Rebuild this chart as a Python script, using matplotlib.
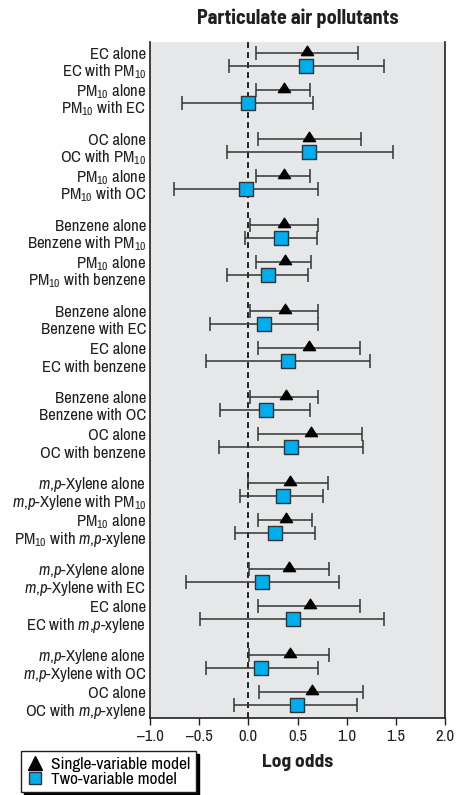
import numpy as np
import matplotlib
matplotlib.use('Agg')
import matplotlib.pyplot as plt
from matplotlib.lines import Line2D
from matplotlib.path import Path

plt.rcParams['font.family'] = ['Archivo Narrow', 'DejaVu Sans']
plt.rcParams['mathtext.fontset'] = 'custom'
plt.rcParams['mathtext.rm'] = 'Archivo Narrow'
plt.rcParams['mathtext.it'] = 'Archivo Narrow:italic'
BOLD = ['Barlow Semi Condensed', 'DejaVu Sans']

MP = r'$\mathit{m{,}p}$'

single_labels = ['EC alone', 'PM$_{10}$ alone', 'OC alone', 'PM$_{10}$ alone',
                 'Benzene alone', 'PM$_{10}$ alone', 'Benzene alone', 'EC alone',
                 'Benzene alone', 'OC alone', MP + '-Xylene alone', 'PM$_{10}$ alone',
                 MP + '-Xylene alone', 'EC alone', MP + '-Xylene alone', 'OC alone']
two_labels = ['EC with PM$_{10}$', 'PM$_{10}$ with EC', 'OC with PM$_{10}$', 'PM$_{10}$ with OC',
              'Benzene with PM$_{10}$', 'PM$_{10}$ with benzene', 'Benzene with EC', 'EC with benzene',
              'Benzene with OC', 'OC with benzene', MP + '-Xylene with PM$_{10}$',
              'PM$_{10}$ with ' + MP + '-xylene', MP + '-Xylene with EC', 'EC with ' + MP + '-xylene',
              MP + '-Xylene with OC', 'OC with ' + MP + '-xylene']

single_est = [0.60, 0.36, 0.62, 0.36, 0.36, 0.37, 0.37, 0.62, 0.38, 0.64, 0.42, 0.38, 0.41, 0.63, 0.42, 0.65]
single_lo = [0.08, 0.08, 0.10, 0.08, 0.02, 0.08, 0.02, 0.10, 0.02, 0.10, 0.00, 0.10, 0.01, 0.10, 0.01, 0.11]
single_hi = [1.12, 0.63, 1.15, 0.63, 0.71, 0.64, 0.71, 1.14, 0.71, 1.16, 0.81, 0.65, 0.82, 1.14, 0.82, 1.17]

two_est = [0.59, 0.00, 0.62, -0.02, 0.33, 0.20, 0.16, 0.40, 0.18, 0.43, 0.35, 0.27, 0.14, 0.45, 0.13, 0.49]
two_lo = [-0.20, -0.67, -0.22, -0.76, -0.03, -0.22, -0.39, -0.43, -0.29, -0.30, -0.08, -0.14, -0.63, -0.49, -0.43, -0.15]
two_hi = [1.38, 0.66, 1.47, 0.71, 0.70, 0.61, 0.71, 1.24, 0.63, 1.17, 0.76, 0.68, 0.92, 1.38, 0.71, 1.11]

xticks = [-1.0, -0.5, 0.0, 0.5, 1.0, 1.5, 2.0]

BLUE = '#00aeef'
BAR = '#333333'
INK = '#231f20'

# rows laid out in pixel-like units, top to bottom: 8 groups of 2 pairs
n = len(single_est)
idx = np.arange(n)
y_single = 11 + (idx // 2) * 86 + (idx % 2) * 37.3
y_two = y_single + 12.5

# triangle sitting above the bar, like the original
tri = Path([(0, 1.2), (-1.0, -0.35), (1.0, -0.35), (0, 1.2)],
           [Path.MOVETO, Path.LINETO, Path.LINETO, Path.CLOSEPOLY])

fig = plt.figure(figsize=(4.63, 7.95), dpi=100)
ax = fig.add_axes([150 / 463, 1 - 717.7 / 795, 295 / 463, 675.7 / 795])
ax.set_facecolor('#e6e7e8')

ax.axvline(0, color='black', lw=1.2, ls=(0, (3.5, 2.5)), zorder=1)

se = np.array(single_est)
te = np.array(two_est)
ax.errorbar(se, y_single, xerr=[se - np.array(single_lo), np.array(single_hi) - se],
            fmt='none', ecolor=BAR, elinewidth=1.1, capsize=5, capthick=1.1, zorder=2)
ax.errorbar(te, y_two, xerr=[te - np.array(two_lo), np.array(two_hi) - te],
            fmt='none', ecolor=BAR, elinewidth=1.1, capsize=5, capthick=1.1, zorder=2)
ax.scatter(se, y_single, marker=tri, s=110, color='black', zorder=3)
ax.scatter(te, y_two, marker='s', s=115, color=BLUE, edgecolor=BAR, linewidth=1.0, zorder=3)

ax.set_xlim(-1, 2)
ax.set_ylim(675.7, 0)
ax.set_yticks([])
ax.set_xticks(xticks)
ax.set_xticklabels([('%.1f' % t).replace('-', '\u2013') for t in xticks], fontsize=12)
ax.tick_params(axis='x', direction='out', length=5, width=1, pad=3, colors=INK)
ax.spines['top'].set_visible(False)
for s in ['left', 'right', 'bottom']:
    ax.spines[s].set_linewidth(1.2)
    ax.spines[s].set_color(INK)

tr = ax.get_yaxis_transform()
for i in range(n):
    ax.text(-0.013, y_single[i] + 6.0, single_labels[i], transform=tr, ha='right',
            va='baseline', fontsize=12, color=INK)
    ax.text(-0.013, y_two[i] + 11.0, two_labels[i], transform=tr, ha='right',
            va='baseline', fontsize=12, color=INK)

ax.set_title('Particulate air pollutants', fontsize=14.5, fontweight='bold', family=BOLD,
             pad=13, color=INK)
ax.set_xlabel('Log odds', fontsize=14, fontweight='bold', family=BOLD, labelpad=7, color=INK)

handles = [Line2D([], [], marker='^', color='black', ls='none', markersize=10),
           Line2D([], [], marker='s', color=BLUE, markeredgecolor=BAR, ls='none', markersize=9)]
fig.legend(handles, ['Single-variable model', 'Two-variable model'],
           loc='lower left', bbox_to_anchor=(21 / 463, 3 / 795), fontsize=12.5,
           frameon=True, fancybox=False, shadow={'color': 'black', 'alpha': 1},
           edgecolor=INK, handlelength=1.0, handletextpad=0.45,
           borderpad=0.3, labelspacing=0.0, borderaxespad=0)

fig.savefig('out.png', dpi=100)
